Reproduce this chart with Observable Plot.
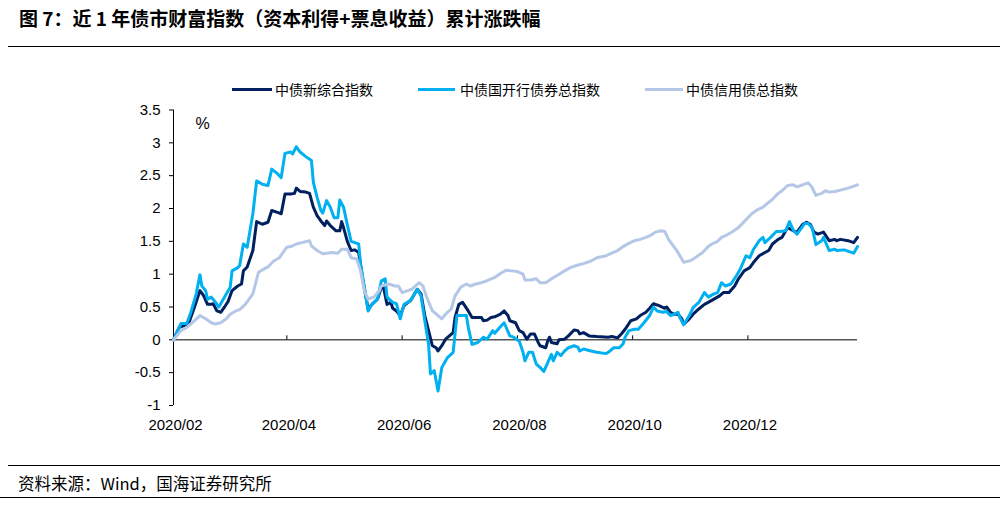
<!DOCTYPE html>
<html>
<head>
<meta charset="utf-8">
<script src="https://cdn.jsdelivr.net/npm/d3@7"></script>
<script src="https://cdn.jsdelivr.net/npm/@observablehq/plot@0.6"></script>
<style>
  html, body { margin: 0; padding: 0; background: #fff; }
  body { width: 1000px; height: 506px; position: relative; overflow: hidden; font-family: "Liberation Sans", Arial, sans-serif; color: #000; }
  #title { position: absolute; left: 19px; top: 5px; font-family: "Noto Sans CJK SC", sans-serif; font-weight: bold; font-size: 19px; line-height: 26px; white-space: nowrap; }
  .hr { position: absolute; height: 0; border-top: 1.5px solid #000; }
  #source { position: absolute; left: 18px; top: 472px; font-family: "Noto Sans CJK SC", sans-serif; font-size: 16.5px; line-height: 22px; white-space: nowrap; }
  #chart { position: absolute; left: 0; top: 95px; }
  .lg-sw { position: absolute; height: 3px; top: 87.5px; }
  .lg-tx { position: absolute; top: 78px; font-family: "Noto Sans CJK SC", sans-serif; font-size: 14px; line-height: 22px; white-space: nowrap; }
</style>
</head>
<body>
<div id="title">图 7：近 1 年债市财富指数（资本利得+票息收益）累计涨跌幅</div>
<div class="hr" style="left:8px; width:992px; top:46px;"></div>
<div id="legend"></div>
<div id="chart"></div>
<div class="hr" style="left:8px; width:992px; top:465px;"></div>
<div id="source">资料来源：Wind，国海证券研究所</div>
<div class="hr" style="left:0px; width:1000px; top:497px;"></div>
<script>
// ---------- data ----------
const seriesNames = ["中债新综合指数", "中债国开行债券总指数", "中债信用债总指数"];

const datesComposite = ["2020-02-01","2020-02-04","2020-02-06","2020-02-09","2020-02-12","2020-02-15","2020-02-17","2020-02-19","2020-02-21","2020-02-22","2020-02-24","2020-02-26","2020-02-28","2020-03-01","2020-03-03","2020-03-06","2020-03-08","2020-03-09","2020-03-11","2020-03-14","2020-03-16","2020-03-19","2020-03-22","2020-03-24","2020-03-27","2020-03-29","2020-03-31","2020-04-03","2020-04-05","2020-04-06","2020-04-08","2020-04-11","2020-04-13","2020-04-15","2020-04-17","2020-04-19","2020-04-21","2020-04-22","2020-04-24","2020-04-27","2020-04-29","2020-04-30","2020-05-01","2020-05-03","2020-05-05","2020-05-07","2020-05-09","2020-05-11","2020-05-14","2020-05-16","2020-05-19","2020-05-21","2020-05-22","2020-05-24","2020-05-26","2020-05-27","2020-05-29","2020-05-31","2020-06-02","2020-06-05","2020-06-06","2020-06-09","2020-06-11","2020-06-13","2020-06-15","2020-06-17","2020-06-19","2020-06-20","2020-06-22","2020-06-24","2020-06-26","2020-06-28","2020-06-29","2020-07-01","2020-07-03","2020-07-06","2020-07-08","2020-07-11","2020-07-13","2020-07-14","2020-07-16","2020-07-18","2020-07-20","2020-07-23","2020-07-25","2020-07-27","2020-07-28","2020-07-31","2020-08-02","2020-08-04","2020-08-06","2020-08-08","2020-08-10","2020-08-12","2020-08-13","2020-08-16","2020-08-17","2020-08-18","2020-08-19","2020-08-22","2020-08-23","2020-08-26","2020-08-28","2020-08-31","2020-09-02","2020-09-03","2020-09-05","2020-09-08","2020-09-12","2020-09-18","2020-09-20","2020-09-23","2020-09-25","2020-09-27","2020-09-30","2020-10-03","2020-10-05","2020-10-08","2020-10-10","2020-10-12","2020-10-15","2020-10-18","2020-10-19","2020-10-21","2020-10-23","2020-10-25","2020-10-27","2020-10-28","2020-10-31","2020-11-02","2020-11-05","2020-11-08","2020-11-10","2020-11-13","2020-11-16","2020-11-18","2020-11-21","2020-11-24","2020-11-26","2020-11-29","2020-12-02","2020-12-04","2020-12-07","2020-12-10","2020-12-12","2020-12-14","2020-12-17","2020-12-19","2020-12-22","2020-12-25","2020-12-27","2020-12-30","2021-01-01","2021-01-03","2021-01-05","2021-01-07","2021-01-10","2021-01-13","2021-01-16","2021-01-17","2021-01-19","2021-01-23","2021-01-26","2021-01-28"];
const valuesComposite = [0,0.19,0.21,0.25,0.49,0.75,0.67,0.54,0.54,0.55,0.44,0.42,0.50,0.59,0.75,0.82,0.85,1.05,1.11,1.36,1.80,1.76,1.79,1.97,1.94,1.92,2.22,2.22,2.23,2.31,2.26,2.25,2.23,2.02,1.89,1.81,1.74,1.81,1.74,1.66,1.66,1.80,1.71,1.50,1.36,1.37,1.33,0.95,0.47,0.54,0.62,0.80,0.82,0.54,0.57,0.48,0.44,0.37,0.52,0.59,0.62,0.77,0.70,0.37,0.14,-0.09,-0.12,-0.17,-0.09,0.01,0.06,0.11,0.34,0.54,0.57,0.44,0.34,0.34,0.34,0.29,0.30,0.34,0.35,0.39,0.44,0.37,0.29,0.26,0.14,0.11,0.01,0.09,0.09,-0.04,-0.09,-0.12,-0.02,0.04,-0.04,-0.06,0.00,0.01,0.06,0.15,0.14,0.09,0.11,0.06,0.05,0.04,0.05,0.03,0.09,0.16,0.29,0.32,0.37,0.42,0.48,0.55,0.52,0.48,0.50,0.42,0.39,0.39,0.32,0.24,0.32,0.39,0.47,0.54,0.57,0.62,0.67,0.72,0.72,0.82,0.93,1.05,1.10,1.18,1.28,1.33,1.36,1.46,1.53,1.56,1.71,1.66,1.64,1.76,1.79,1.76,1.64,1.61,1.64,1.51,1.53,1.51,1.53,1.51,1.48,1.56];

const datesCDB = ["2020-02-01","2020-02-05","2020-02-08","2020-02-10","2020-02-13","2020-02-15","2020-02-16","2020-02-18","2020-02-19","2020-02-21","2020-02-23","2020-02-25","2020-02-29","2020-03-02","2020-03-03","2020-03-06","2020-03-07","2020-03-09","2020-03-11","2020-03-14","2020-03-16","2020-03-19","2020-03-22","2020-03-24","2020-03-27","2020-03-29","2020-03-31","2020-04-03","2020-04-04","2020-04-06","2020-04-08","2020-04-11","2020-04-14","2020-04-15","2020-04-17","2020-04-19","2020-04-20","2020-04-22","2020-04-24","2020-04-26","2020-04-28","2020-04-29","2020-05-01","2020-05-03","2020-05-05","2020-05-07","2020-05-09","2020-05-10","2020-05-12","2020-05-14","2020-05-16","2020-05-19","2020-05-21","2020-05-23","2020-05-24","2020-05-27","2020-05-29","2020-05-31","2020-06-02","2020-06-05","2020-06-06","2020-06-09","2020-06-11","2020-06-13","2020-06-15","2020-06-16","2020-06-18","2020-06-20","2020-06-22","2020-06-25","2020-06-28","2020-06-29","2020-06-30","2020-07-02","2020-07-05","2020-07-06","2020-07-08","2020-07-11","2020-07-13","2020-07-14","2020-07-16","2020-07-19","2020-07-20","2020-07-23","2020-07-25","2020-07-28","2020-07-30","2020-08-02","2020-08-04","2020-08-05","2020-08-07","2020-08-09","2020-08-11","2020-08-13","2020-08-15","2020-08-17","2020-08-19","2020-08-20","2020-08-22","2020-08-24","2020-08-26","2020-08-28","2020-08-31","2020-09-02","2020-09-03","2020-09-05","2020-09-09","2020-09-12","2020-09-17","2020-09-19","2020-09-21","2020-09-24","2020-09-26","2020-09-27","2020-09-29","2020-10-02","2020-10-04","2020-10-07","2020-10-10","2020-10-12","2020-10-14","2020-10-17","2020-10-19","2020-10-21","2020-10-23","2020-10-25","2020-10-26","2020-10-28","2020-10-31","2020-11-02","2020-11-05","2020-11-08","2020-11-10","2020-11-13","2020-11-15","2020-11-17","2020-11-19","2020-11-22","2020-11-25","2020-11-27","2020-11-30","2020-12-02","2020-12-04","2020-12-07","2020-12-09","2020-12-10","2020-12-13","2020-12-16","2020-12-18","2020-12-21","2020-12-23","2020-12-25","2020-12-27","2020-12-29","2020-12-31","2021-01-02","2021-01-04","2021-01-06","2021-01-09","2021-01-10","2021-01-13","2021-01-16","2021-01-17","2021-01-21","2021-01-24","2021-01-26","2021-01-28"];
const valuesCDB = [0,0.25,0.25,0.40,0.70,0.99,0.82,0.75,0.62,0.65,0.58,0.50,0.70,0.80,1.05,1.10,1.13,1.46,1.41,1.92,2.42,2.37,2.35,2.60,2.53,2.47,2.84,2.86,2.83,2.94,2.86,2.79,2.73,2.40,2.17,1.97,1.93,2.12,2.02,1.86,1.86,2.13,2.02,1.75,1.50,1.48,1.46,1.16,0.80,0.44,0.54,0.62,0.90,0.93,0.65,0.57,0.55,0.32,0.54,0.59,0.62,0.77,0.67,0.29,-0.07,-0.52,-0.47,-0.78,-0.42,-0.27,-0.19,0.09,0.37,0.37,0.37,0.19,-0.07,-0.04,0.01,0.04,0.01,0.14,0.10,0.20,0.26,0.06,0.04,-0.02,-0.19,-0.32,-0.19,-0.19,-0.37,-0.42,-0.48,-0.35,-0.22,-0.32,-0.19,-0.24,-0.17,-0.12,-0.09,-0.11,-0.17,-0.14,-0.17,-0.19,-0.21,-0.17,-0.12,-0.12,-0.06,0.04,0.14,0.16,0.16,0.26,0.37,0.50,0.44,0.42,0.43,0.37,0.39,0.42,0.34,0.23,0.37,0.49,0.57,0.72,0.65,0.70,0.72,0.87,0.82,0.85,0.98,1.08,1.28,1.25,1.38,1.51,1.56,1.48,1.56,1.65,1.65,1.66,1.80,1.67,1.61,1.69,1.77,1.77,1.71,1.45,1.51,1.56,1.36,1.38,1.36,1.37,1.34,1.32,1.42];

const datesCredit = ["2020-02-01","2020-02-05","2020-02-08","2020-02-12","2020-02-15","2020-02-18","2020-02-21","2020-02-23","2020-02-26","2020-02-29","2020-03-02","2020-03-05","2020-03-07","2020-03-10","2020-03-14","2020-03-17","2020-03-20","2020-03-22","2020-03-25","2020-03-28","2020-03-30","2020-04-01","2020-04-04","2020-04-06","2020-04-09","2020-04-13","2020-04-14","2020-04-17","2020-04-20","2020-04-22","2020-04-25","2020-04-28","2020-04-30","2020-05-03","2020-05-05","2020-05-08","2020-05-10","2020-05-12","2020-05-14","2020-05-17","2020-05-20","2020-05-21","2020-05-25","2020-05-28","2020-05-30","2020-06-01","2020-06-04","2020-06-06","2020-06-10","2020-06-12","2020-06-14","2020-06-17","2020-06-20","2020-06-22","2020-06-24","2020-06-27","2020-06-29","2020-07-02","2020-07-05","2020-07-07","2020-07-10","2020-07-13","2020-07-16","2020-07-20","2020-07-23","2020-07-26","2020-07-29","2020-08-01","2020-08-04","2020-08-05","2020-08-08","2020-08-11","2020-08-13","2020-08-16","2020-08-19","2020-08-22","2020-08-26","2020-08-29","2020-09-02","2020-09-05","2020-09-09","2020-09-12","2020-09-17","2020-09-19","2020-09-23","2020-09-26","2020-09-29","2020-10-02","2020-10-05","2020-10-08","2020-10-11","2020-10-13","2020-10-16","2020-10-18","2020-10-20","2020-10-23","2020-10-25","2020-10-28","2020-11-01","2020-11-04","2020-11-07","2020-11-10","2020-11-12","2020-11-15","2020-11-17","2020-11-20","2020-11-23","2020-11-26","2020-11-28","2020-12-01","2020-12-03","2020-12-06","2020-12-09","2020-12-11","2020-12-14","2020-12-17","2020-12-19","2020-12-22","2020-12-25","2020-12-27","2020-12-29","2020-12-31","2021-01-02","2021-01-04","2021-01-06","2021-01-09","2021-01-11","2021-01-13","2021-01-16","2021-01-19","2021-01-23","2021-01-25","2021-01-28"];
const valuesCredit = [0,0.14,0.19,0.29,0.37,0.32,0.26,0.24,0.26,0.32,0.39,0.44,0.46,0.54,0.70,1.03,1.08,1.11,1.20,1.25,1.33,1.41,1.43,1.46,1.48,1.51,1.43,1.36,1.31,1.32,1.33,1.32,1.38,1.38,1.25,1.23,1.05,0.75,0.62,0.65,0.75,0.82,0.85,0.82,0.82,0.72,0.75,0.77,0.87,0.82,0.65,0.44,0.37,0.32,0.39,0.47,0.67,0.80,0.85,0.82,0.85,0.87,0.90,0.95,1.01,1.06,1.05,1.04,1.00,0.91,0.91,0.93,0.87,0.87,0.93,0.98,1.05,1.10,1.14,1.16,1.20,1.25,1.28,1.31,1.36,1.42,1.47,1.51,1.53,1.56,1.60,1.64,1.66,1.65,1.53,1.41,1.33,1.18,1.21,1.27,1.33,1.42,1.46,1.50,1.56,1.60,1.65,1.71,1.77,1.86,1.92,1.98,2.02,2.07,2.14,2.23,2.27,2.35,2.36,2.33,2.35,2.37,2.39,2.32,2.20,2.23,2.27,2.25,2.26,2.28,2.31,2.33,2.36];

const xDomain = ["2020-02-01", "2021-01-28"];
const xTickDates = ["2020-02-01", "2020-04-01", "2020-06-01", "2020-08-01", "2020-10-01", "2020-12-01"];
const yTicks = [-1, -0.5, 0, 0.5, 1, 1.5, 2, 2.5, 3, 3.5];
const yUnit = "%";

// ---------- styling ----------
const seriesColors = ["#002060", "#00B0F0", "#B4C7E7"];
const legendLeft = [[232, 40, 275], [418, 37, 460], [645, 38, 686]];

// ---------- build table ----------
const parse = s => new Date(s + "T00:00:00Z");
const seriesDates = [datesComposite, datesCDB, datesCredit];
const seriesValues = [valuesComposite, valuesCDB, valuesCredit];
const rows = [];
seriesNames.forEach((name, k) => {
  seriesDates[k].forEach((d, i) => rows.push({series: name, date: parse(d), value: seriesValues[k][i]}));
});
const ticksX = xTickDates.map(parse);

// legend
const lg = document.getElementById("legend");
seriesNames.forEach((name, k) => {
  const [sl, sw, tl] = legendLeft[k];
  const sEl = document.createElement("div");
  sEl.className = "lg-sw";
  sEl.style.left = sl + "px"; sEl.style.width = sw + "px"; sEl.style.background = seriesColors[k];
  lg.appendChild(sEl);
  const tEl = document.createElement("div");
  tEl.className = "lg-tx";
  tEl.style.left = tl + "px";
  tEl.textContent = name;
  lg.appendChild(tEl);
});

const chart = Plot.plot({
  width: 1000,
  height: 345,
  marginLeft: 173,
  marginRight: 143,
  marginTop: 14.5,
  marginBottom: 35,
  style: {fontFamily: "'Liberation Sans', Arial, sans-serif", fontSize: "15px", color: "#000", background: "transparent"},
  x: {type: "utc", domain: xDomain.map(parse)},
  y: {domain: [-1, 3.5]},
  color: {domain: seriesNames, range: seriesColors},
  marks: [
    Plot.axisY({ticks: yTicks, tickSize: 4, tickPadding: 9, tickFormat: d => String(d), label: null, stroke: "#000"}),
    Plot.axisX({ticks: ticksX, tickSize: 0, tickPadding: 14, tickFormat: d3.utcFormat("%Y/%m"), label: null, dx: 2}),
    Plot.ruleX([parse(xDomain[0])], {stroke: "#000", strokeWidth: 1}),
    Plot.ruleY([0], {stroke: "#000", strokeWidth: 1}),
    Plot.ruleX(ticksX, {x: d => d, y1: 0, y2: 0, insetBottom: 4, stroke: "#000"}),
    Plot.text([yUnit], {frameAnchor: "top-left", dx: 22, dy: 8, fontSize: 16, fill: "#000"}),
    Plot.line(rows, {x: "date", y: "value", z: "series", stroke: "series", strokeWidth: 3, strokeLinejoin: "round", strokeLinecap: "round"})
  ]
});
document.getElementById("chart").appendChild(chart);
</script>
</body>
</html>
